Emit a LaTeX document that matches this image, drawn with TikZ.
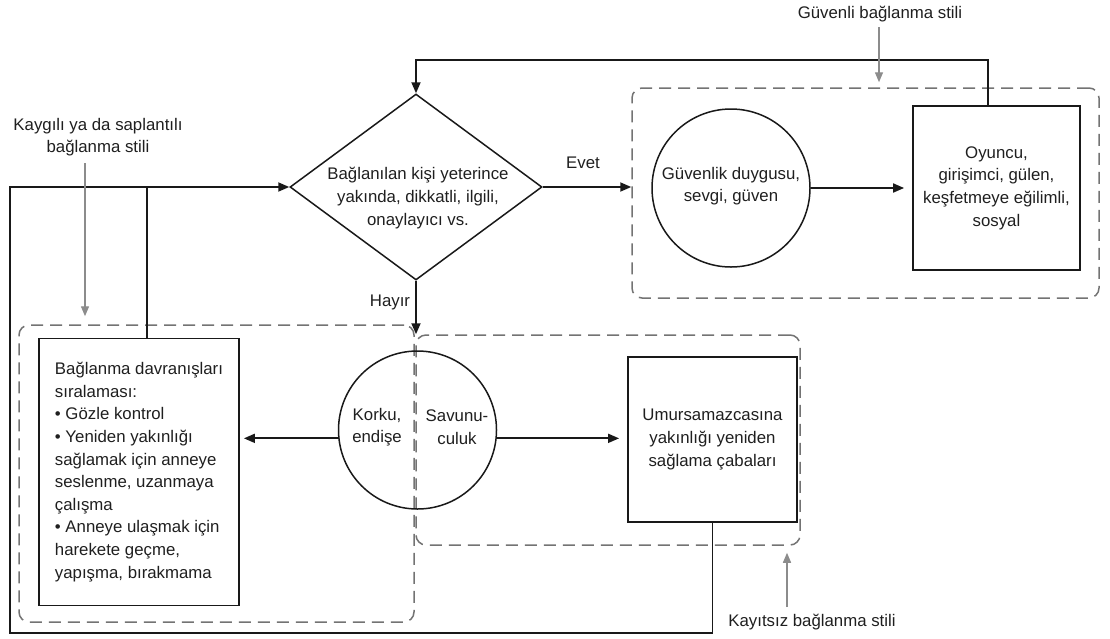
\documentclass[tikz,border=0pt]{standalone}
\usepackage{fontspec}
\setmainfont{Liberation Sans}
\usetikzlibrary{shapes.geometric,arrows.meta,calc}
\begin{document}
\begin{tikzpicture}[x=1pt,y=-1pt,
  every node/.style={font=\fontsize{16.8}{22.6}\selectfont, text=black!88},
  ln/.style={line width=1.8pt, draw=black!90},
  arr/.style={ln, -{Triangle[length=11pt,width=9pt]}},
  garr/.style={line width=1.4pt, draw=black!45, -{Triangle[length=10pt,width=8pt]}},
  frame/.style={draw=black!55, dash pattern=on 12pt off 7pt, line width=1.5pt, rounded corners=10pt, inner sep=0},
  boxnode/.style={draw=black!90, line width=1.8pt, inner sep=0, align=center},
  circnode/.style={circle, draw=black!90, line width=1.5pt, minimum size=158pt, inner sep=0},
  lbl/.style={inner sep=0, align=center}
]
\useasboundingbox (0,0) rectangle (1110,638);

% frames
\node[frame, minimum width=467pt, minimum height=210pt] (fsec) at (865.5,193) {};
\node[frame, minimum width=395pt, minimum height=297pt] (fanx) at (216.5,473.5) {};
\node[frame, minimum width=384pt, minimum height=210pt] (favo) at (608,440) {};

% decision
\node[diamond, draw=black!90, line width=1.5pt, minimum width=252pt, minimum height=186pt, inner sep=0] (d) at (416,187) {};
\node[lbl] (dt) at (418,198) {Bağlanılan kişi yeterince\\yakında, dikkatli, ilgili,\\onaylayıcı vs.};

% secure branch
\node[circnode] (g) at (731,188) {};
\node[lbl] (gt) at (731,186) {Güvenlik duygusu,\\sevgi, güven};
\node[boxnode, minimum width=167pt, minimum height=164pt] (o) at (996.5,188) {Oyuncu,\\girişimci, gülen,\\keşfetmeye eğilimli,\\sosyal};

% anxious branch
\node[boxnode, minimum width=200pt, minimum height=267pt, align=left] (b) at (139,472) {Bağlanma davranışları\\sıralaması:\\\textbullet\ Gözle kontrol\\\textbullet\ Yeniden yakınlığı\\sağlamak için anneye\\seslenme, uzanmaya\\çalışma\\\textbullet\ Anneye ulaşmak için\\harekete geçme,\\yapışma, bırakmama};

% fear circle
\node[circnode] (k) at (417.5,430) {};
\node[lbl] (kt1) at (377,427) {Korku,\\endişe};
\node[lbl] (kt2) at (457,427) {Savunu-\\culuk};

% avoidant box
\node[boxnode, minimum width=169pt, minimum height=165pt] (u) at (712.5,439.5) {Umursamazcasına\\yakınlığı yeniden\\sağlama çabaları};

% labels
\node[lbl] (lsec) at (880,14) {Güvenli bağlanma stili};
\node[lbl] (lanx) at (98,137) {Kaygılı ya da saplantılı\\bağlanma stili};
\node[lbl] (lavo) at (812,622) {Kayıtsız bağlanma stili};
\node[lbl] (levet) at (583,163) {Evet};
\node[lbl] (lhay) at (390,302) {Hayır};

% connectors
\draw[arr] (d.east) -- (d.east -| fsec.west);
\draw[arr, shorten >=8pt] (g.east) -- (o.west);
\coordinate (tl) at (988,60);
\draw[arr] (tl |- o.north) -- (tl) -| (d.north);

\coordinate (bl) at (10,633);
\draw[arr] (u.south) |- (bl) |- (d.west);
\coordinate (bj) at (147,187);
\draw[ln] (bj) -- (bj |- b.north);

\draw[arr] (d.south) -- (d.south |- favo.north);
\draw[arr, shorten >=4pt] (k.186) -- (k.186 -| b.east);
\draw[arr, shorten >=8pt] (k.-6) -- (k.-6 -| u.west);

% style pointers
\coordinate (pa) at (85,163);
\draw[garr, shorten >=8pt] (pa) -- (pa |- fanx.north);
\coordinate (ps) at (879,27);
\draw[garr, shorten >=5pt] (ps) -- (ps |- fsec.north);
\coordinate (pv) at (787,607);
\draw[garr, shorten >=7pt] (pv) -- (pv |- favo.south);
\end{tikzpicture}
\end{document}
